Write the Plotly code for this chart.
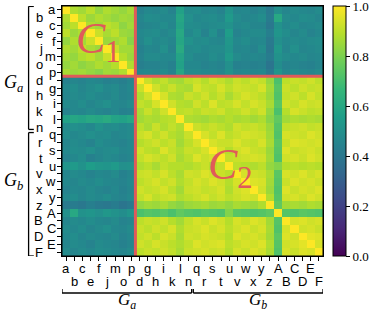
import plotly.graph_objects as go

labels = ["a", "b", "c", "e", "f", "j", "m", "o", "p", "d", "g", "h", "i", "k", "l", "n",
          "q", "r", "s", "t", "u", "v", "w", "x", "y", "z", "A", "B", "C", "D", "E", "F"]

# lower triangle of the symmetric similarity matrix (row i holds columns 0..i)
lower = [
    [1],
    [.88, 1],
    [.86, .90, 1],
    [.90, .85, .88, 1],
    [.84, .88, .86, .92, 1],
    [.88, .86, .90, .87, .85, 1],
    [.86, .84, .88, .90, .86, .92, 1],
    [.84, .86, .83, .85, .88, .86, .89, 1],
    [.87, .85, .86, .84, .82, .86, .85, .88, 1],
    [.44, .46, .45, .47, .46, .44, .45, .43, .46, 1],
    [.47, .49, .46, .48, .50, .47, .48, .45, .47, .92, 1],
    [.46, .48, .47, .49, .47, .46, .48, .45, .46, .88, .93, 1],
    [.48, .47, .49, .46, .48, .50, .47, .46, .48, .91, .89, .94, 1],
    [.45, .47, .46, .48, .46, .45, .47, .44, .45, .87, .92, .88, .93, 1],
    [.57, .59, .58, .60, .59, .61, .58, .57, .59, .86, .88, .87, .89, .90, 1],
    [.48, .50, .49, .47, .51, .48, .49, .47, .48, .90, .87, .92, .88, .91, .88, 1],
    [.49, .47, .48, .50, .48, .49, .46, .47, .48, .92, .94, .90, .93, .89, .87, .92, 1],
    [.46, .48, .47, .45, .49, .47, .46, .45, .47, .89, .91, .93, .90, .92, .86, .90, .94, 1],
    [.47, .49, .48, .50, .47, .48, .49, .46, .47, .93, .90, .89, .95, .91, .88, .92, .91, .94, 1],
    [.45, .47, .49, .44, .46, .48, .47, .45, .46, .91, .94, .92, .90, .93, .87, .90, .95, .92, .94, 1],
    [.52, .54, .51, .55, .53, .52, .54, .50, .51, .88, .90, .87, .91, .89, .89, .88, .90, .92, .89, .91, 1],
    [.46, .48, .47, .45, .47, .46, .48, .44, .46, .92, .93, .91, .94, .90, .87, .93, .92, .95, .93, .92, .90, 1],
    [.47, .46, .48, .47, .49, .47, .46, .45, .47, .90, .92, .94, .91, .93, .88, .91, .94, .92, .95, .93, .89, .94, 1],
    [.45, .47, .46, .48, .46, .45, .47, .44, .46, .93, .91, .92, .94, .90, .86, .92, .93, .91, .92, .94, .88, .93, .95, 1],
    [.47, .49, .46, .48, .47, .49, .46, .45, .47, .91, .94, .90, .92, .93, .88, .90, .92, .94, .91, .93, .90, .92, .94, .93, 1],
    [.41, .42, .40, .43, .41, .40, .42, .39, .41, .84, .86, .85, .87, .84, .82, .85, .86, .87, .85, .86, .84, .87, .86, .85, .88, 1],
    [.50, .60, .51, .52, .50, .53, .51, .49, .52, .71, .73, .72, .74, .71, .75, .73, .72, .74, .73, .72, .81, .74, .73, .72, .73, .75, 1],
    [.46, .48, .47, .49, .47, .46, .48, .45, .46, .90, .92, .91, .93, .89, .86, .91, .94, .92, .95, .93, .89, .94, .92, .95, .93, .86, .73, 1],
    [.48, .47, .49, .46, .48, .50, .47, .46, .48, .92, .90, .93, .91, .94, .88, .92, .93, .95, .92, .94, .90, .93, .95, .92, .94, .87, .72, .94, 1],
    [.47, .49, .46, .48, .47, .46, .48, .45, .47, .91, .93, .90, .94, .92, .87, .93, .92, .94, .93, .92, .89, .95, .93, .94, .92, .86, .74, .95, .93, 1],
    [.46, .48, .47, .45, .48, .47, .46, .44, .46, .93, .91, .94, .92, .90, .88, .91, .95, .93, .94, .95, .90, .92, .94, .93, .95, .88, .73, .93, .94, .96, 1],
    [.48, .46, .48, .47, .49, .48, .47, .46, .48, .90, .92, .91, .93, .91, .87, .92, .93, .94, .92, .93, .89, .94, .92, .95, .93, .87, .72, .94, .92, .95, .94, 1],
]

cbar_ticks = [0, 0.2, 0.4, 0.6, 0.8, 1.0]
cbar_text = ["0.0", "0.2", "0.4", "0.6", "0.8", "1.0"]

group_a_end = 8      # last index of block C1
n = len(labels)
for i, row in enumerate(lower):
    assert len(row) == i + 1, (i, len(row))

z = [[lower[i][j] if j <= i else lower[j][i] for j in range(n)] for i in range(n)]
idx = list(range(n))

RED = "#e05a5a"
SANS = "Liberation Sans, Arial, Helvetica, DejaVu Sans, sans-serif"
SERIF = "Liberation Serif, Times New Roman, DejaVu Serif, serif"

fig = go.Figure(go.Heatmap(
    z=z, x=idx, y=idx, colorscale="Viridis", zmin=0, zmax=1.0005,
    colorbar=dict(
        x=1.04, xanchor="left", xref="paper", y=0.5, yanchor="middle", len=1.0,
        lenmode="fraction", thickness=13, xpad=0, ypad=0,
        outlinecolor="black", outlinewidth=1,
        tickmode="array", tickvals=cbar_ticks, ticktext=cbar_text,
        ticks="outside", ticklen=4, tickcolor="black", ticklabeloverflow="allow",
        tickfont=dict(family=SERIF, size=13, color="black"),
    ),
    hoverinfo="skip",
))

fig.update_xaxes(range=[-0.5, n - 0.5], tickvals=idx, showticklabels=False, ticks="outside",
                 ticklen=4, tickcolor="black", showline=True, mirror=True, linecolor="black",
                 linewidth=1, showgrid=False, zeroline=False)
fig.update_yaxes(range=[n - 0.5, -0.5], tickvals=idx, showticklabels=False, ticks="outside",
                 ticklen=4, tickcolor="black", showline=True, mirror=True, linecolor="black",
                 linewidth=1, showgrid=False, zeroline=False)

ann = []
for i, lab in enumerate(labels):
    odd = i % 2 == 1
    ann.append(dict(x=i, y=0, xref="x", yref="paper", text=lab, showarrow=False,
                    yanchor="top", yshift=-(16 if odd else 3),
                    font=dict(family=SANS, size=13, color="black")))
    ann.append(dict(x=0, y=i, xref="paper", yref="y", text=lab, showarrow=False,
                    xanchor="right", xshift=-(17 if odd else 4),
                    font=dict(family=SANS, size=13, color="black")))

# group labels
ann += [
    dict(x=-0.185, y=0.745, xref="paper", yref="paper", text="<i>G</i><sub><i>a</i></sub>",
         showarrow=False, xanchor="center", font=dict(family=SERIF, size=18, color="black")),
    dict(x=-0.185, y=0.245, xref="paper", yref="paper", text="<i>G</i><sub><i>b</i></sub>",
         showarrow=False, xanchor="center", font=dict(family=SERIF, size=18, color="black")),
    dict(x=7.5, y=-0.178, xref="x", yref="paper", text="<i>G</i><sub><i>a</i></sub>",
         showarrow=False, yanchor="middle", font=dict(family=SERIF, size=17, color="black")),
    dict(x=23.5, y=-0.178, xref="x", yref="paper", text="<i>G</i><sub><i>b</i></sub>",
         showarrow=False, yanchor="middle", font=dict(family=SERIF, size=17, color="black")),
    dict(x=4.0, y=4.0, xref="x", yref="y", text="<i>C</i><sub>1</sub>", showarrow=False,
         font=dict(family=SERIF, size=44, color=RED)),
    dict(x=20.2, y=20.2, xref="x", yref="y", text="<i>C</i><sub>2</sub>", showarrow=False,
         font=dict(family=SERIF, size=44, color=RED)),
]

shapes = [
    dict(type="line", xref="x", yref="y", x0=group_a_end + 0.5, x1=group_a_end + 0.5,
         y0=-0.5, y1=n - 0.5, line=dict(color=RED, width=3), layer="above"),
    dict(type="line", xref="x", yref="y", y0=group_a_end + 0.5, y1=group_a_end + 0.5,
         x0=-0.5, x1=n - 0.5, line=dict(color=RED, width=3), layer="above"),
    dict(type="rect", xref="paper", yref="paper", x0=0, x1=1, y0=0, y1=1,
         line=dict(color="black", width=1), layer="above"),
]

# bracket geometry (paper x for left brackets, paper y for bottom brackets)
bx0, bx1 = -0.128, -0.108
by0, by1 = -0.148, -0.132
for (s, e) in [(-0.45, 15.3), (15.7, 31.5)]:
    shapes.append(dict(type="line", xref="paper", yref="y", x0=bx0, x1=bx0, y0=s, y1=e,
                       line=dict(color="black", width=1.3)))
    for yy in (s, e):
        shapes.append(dict(type="line", xref="paper", yref="y", x0=bx0, x1=bx1, y0=yy, y1=yy,
                           line=dict(color="black", width=1.3)))
for (s, e) in [(-0.5, 15.4), (15.6, 31.5)]:
    shapes.append(dict(type="line", xref="x", yref="paper", x0=s, x1=e, y0=by0, y1=by0,
                       line=dict(color="black", width=1.3)))
    for xx in (s, e):
        shapes.append(dict(type="line", xref="x", yref="paper", x0=xx, x1=xx, y0=by0, y1=by1,
                           line=dict(color="black", width=1.3)))

fig.update_layout(
    width=374, height=315,
    margin=dict(l=62, r=51, t=6, b=59, pad=0, autoexpand=False),
    paper_bgcolor="white", plot_bgcolor="white",
    annotations=ann, shapes=shapes, showlegend=False,
)

fig.write_html("out.html", config={"displayModeBar": False},
               post_script="document.body.style.margin='0px';")
